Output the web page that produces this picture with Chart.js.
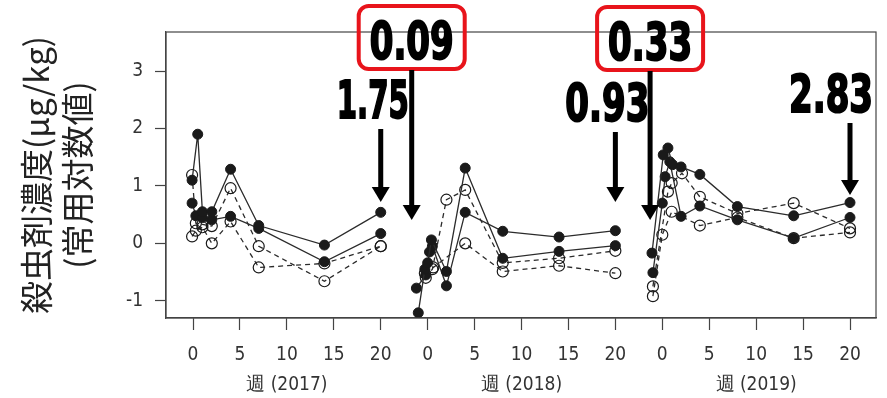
<!DOCTYPE html>
<html>
<head>
<meta charset="utf-8">
<script src="https://cdn.jsdelivr.net/npm/chart.js@4"></script>
<style>
  html, body { margin: 0; padding: 0; background: #fff; }
  #wrap { width: 887px; height: 398px; }
</style>
</head>
<body>
<div id="wrap"><canvas id="chart" width="887" height="398"></canvas></div>
<script>
// ─── Data ─────────────────────────────────────────────
var yearLabels = ['2017', '2018', '2019'];
var weekTicks = [0, 5, 10, 15, 20];
var yTicks = [-1, 0, 1, 2, 3];
var yearSpan = 25; // weeks between panel origins on the shared axis

// 2017
var wk17Fa = [-0.1, 0.5, 1.0, 2.0, 4.0, 7.0, 14.0, 20.0];
var val17Fa = [1.10, 1.90, 0.55, 0.55, 1.29, 0.31, -0.03, 0.54];
var wk17Fb = [-0.1, 0.3, 1.0, 2.0, 4.0, 7.0, 14.0, 20.0];
var val17Fb = [0.70, 0.48, 0.45, 0.41, 0.47, 0.26, -0.32, 0.17];
var wk17Oa = [-0.1, 0.3, 1.0, 2.0, 4.0, 7.0, 14.0, 20.0];
var val17Oa = [1.19, 0.35, 0.33, 0.30, 0.96, -0.05, -0.66, -0.05];
var wk17Ob = [-0.1, 0.3, 1.0, 2.0, 4.0, 7.0, 14.0, 20.0];
var val17Ob = [0.12, 0.22, 0.28, 0.00, 0.38, -0.42, -0.35, -0.05];

// 2018
var wk18Fa = [-1.0, -0.3, 0.0, 0.4, 2.0, 4.0, 8.0, 14.0, 20.0];
var val18Fa = [-1.21, -0.45, -0.34, 0.06, -0.49, 1.31, -0.26, -0.14, -0.04];
var wk18Fb = [-1.2, -0.2, 0.2, 0.5, 2.0, 4.0, 8.0, 14.0, 20.0];
var val18Fb = [-0.78, -0.55, -0.15, -0.05, -0.74, 0.54, 0.21, 0.11, 0.22];
var wk18Oa = [-0.2, 0.5, 2.0, 4.0, 8.0, 14.0, 20.0];
var val18Oa = [-0.60, -0.45, 0.76, 0.93, -0.34, -0.26, -0.13];
var wk18Ob = [-0.3, 0.6, 4.0, 8.0, 14.0, 20.0];
var val18Ob = [-0.52, -0.42, 0.00, -0.49, -0.39, -0.52];

// 2019
var wk19Fa = [-1.1, 0.1, 0.6, 1.1, 2.0, 4.0, 8.0, 14.0, 20.0];
var val19Fa = [-0.17, 1.54, 1.66, 1.37, 1.33, 1.20, 0.64, 0.48, 0.71];
var wk19Fb = [-1.0, 0.0, 0.3, 0.8, 2.0, 4.0, 8.0, 14.0, 20.0];
var val19Fb = [-0.51, 0.70, 1.16, 1.42, 0.47, 0.65, 0.41, 0.09, 0.45];
var wk19Oa = [-1.0, 0.6, 1.0, 2.1, 4.0, 8.0, 14.0, 20.0];
var val19Oa = [-0.75, 0.90, 1.05, 1.22, 0.81, 0.52, 0.70, 0.26];
var wk19Ob = [-1.0, 0.0, 1.0, 4.0, 8.0, 14.0, 20.0];
var val19Ob = [-0.92, 0.15, 0.55, 0.31, 0.45, 0.09, 0.19];

// annotations: label, year index, week the arrow points at, boxed
var noteLabels = ['1.75', '0.09', '0.93', '0.33', '2.83'];
var noteYear = [0, 1, 1, 2, 2];
var noteWeek = [20, -1.7, 20, -1.3, 20];
var noteBoxed = [false, true, false, true, false];

var seriesList = [
  [0, true, wk17Fa, val17Fa], [0, true, wk17Fb, val17Fb],
  [0, false, wk17Oa, val17Oa], [0, false, wk17Ob, val17Ob],
  [1, true, wk18Fa, val18Fa], [1, true, wk18Fb, val18Fb],
  [1, false, wk18Oa, val18Oa], [1, false, wk18Ob, val18Ob],
  [2, true, wk19Fa, val19Fa], [2, true, wk19Fb, val19Fb],
  [2, false, wk19Oa, val19Oa], [2, false, wk19Ob, val19Ob]
];

// ─── Datasets ─────────────────────────────────────────
var INK = '#1a1a1a';
var datasets = seriesList.map(function (s) {
  var off = s[0] * yearSpan;
  var pts = s[2].map(function (w, i) { return { x: w + off, y: s[3][i] }; });
  return {
    data: pts,
    showLine: true,
    borderColor: '#2b2b2b',
    borderWidth: 1.3,
    borderDash: s[1] ? [] : [5, 4],
    pointRadius: s[1] ? 5 : 5.5,
    pointBorderWidth: s[1] ? 1 : 1.2,
    pointBorderColor: INK,
    pointBackgroundColor: s[1] ? INK : 'rgba(0,0,0,0)',
    clip: 0
  };
});

var xTickValues = [];
yearLabels.forEach(function (y, i) {
  weekTicks.forEach(function (w) { xTickValues.push(w + i * yearSpan); });
});

var TICK_FONT = '"Liberation Sans Narrow", "DejaVu Sans Condensed", "Noto Sans", sans-serif';

// ─── Plugins ──────────────────────────────────────────
var frame = {
  id: 'frame',
  afterDatasetsDraw: function (chart) {
    var a = chart.chartArea, ctx = chart.ctx;
    ctx.save();
    ctx.strokeStyle = '#444';
    ctx.lineWidth = 1.2;
    ctx.strokeRect(a.left, a.top, a.right - a.left, a.bottom - a.top);
    ctx.restore();
  }
};

var titles = {
  id: 'titles',
  afterDraw: function (chart) {
    var ctx = chart.ctx, a = chart.chartArea, xs = chart.scales.x;
    ctx.save();
    ctx.fillStyle = '#333';
    ctx.textAlign = 'center';
    ctx.textBaseline = 'middle';
    ctx.font = '19px ' + TICK_FONT;
    yearLabels.forEach(function (y, i) {
      ctx.fillText('週 (' + y + ')', xs.getPixelForValue(10 + i * yearSpan), 385);
    });
    // y title, two rotated lines
    var cy = (a.top + a.bottom) / 2;
    ctx.font = '33px "Noto Sans CJK JP", sans-serif';
    ctx.fillStyle = '#222';
    ctx.translate(36, cy);
    ctx.rotate(-Math.PI / 2);
    ctx.fillText('殺虫剤濃度(μg/kg)', 0, 0);
    ctx.fillText('(常用対数値)', 0, 41);
    ctx.restore();
  }
};

var notes = {
  id: 'notes',
  afterDraw: function (chart) {
    var ctx = chart.ctx, xs = chart.scales.x;
    ctx.save();
    noteLabels.forEach(function (t, i) {
      var ax = xs.getPixelForValue(noteWeek[i] + noteYear[i] * yearSpan);
      var boxed = noteBoxed[i];
      var tx = boxed ? ax : ax - 8;
      if (i === 4) tx = ax - 19;
      var baseY = boxed ? 59 : (i === 0 ? 118 : (i === 2 ? 121 : 112));
      if (i === 3) baseY = 60;
      // text, squeezed to an Impact-like width
      ctx.save();
      ctx.font = 'bold 52px ' + TICK_FONT;
      var w = ctx.measureText(t).width;
      var target = t === '1.75' ? 72 : 84;
      var sx = target / w;
      ctx.translate(tx, baseY);
      ctx.scale(sx, 1);
      ctx.fillStyle = '#000';
      ctx.strokeStyle = '#000';
      ctx.lineWidth = 2;
      ctx.textAlign = 'center';
      ctx.textBaseline = 'alphabetic';
      ctx.fillText(t, 0, 0);
      ctx.strokeText(t, 0, 0);
      ctx.restore();
      // red rounded box
      if (boxed) {
        ctx.save();
        ctx.strokeStyle = '#e8141b';
        ctx.lineWidth = 4;
        ctx.beginPath();
        ctx.roundRect(ax - 53, baseY - 53, 106, 63, 10);
        ctx.stroke();
        ctx.restore();
      }
      // arrow
      var top = baseY + 11;
      var tip = boxed ? 220 : (i === 4 ? 195 : 202);
      ctx.fillStyle = '#000';
      ctx.fillRect(ax - 2.5, top, 5, tip - top - 12);
      ctx.beginPath();
      ctx.moveTo(ax - 9, tip - 15);
      ctx.lineTo(ax + 9, tip - 15);
      ctx.lineTo(ax, tip);
      ctx.closePath();
      ctx.fill();
    });
    ctx.restore();
  }
};

// ─── Chart ────────────────────────────────────────────
new Chart(document.getElementById('chart'), {
  type: 'scatter',
  data: { datasets: datasets },
  plugins: [frame, titles, notes],
  options: {
    responsive: false,
    animation: false,
    devicePixelRatio: 1,
    layout: { padding: { top: 32, right: 11, left: 0, bottom: 0 } },
    plugins: { legend: { display: false }, tooltip: { enabled: false } },
    scales: {
      x: {
        type: 'linear',
        min: -2.88,
        max: 72.77,
        afterFit: function (s) { s.height = 80; },
        afterBuildTicks: function (s) {
          s.ticks = xTickValues.map(function (v) { return { value: v }; });
        },
        ticks: {
          color: '#333',
          padding: 14,
          maxRotation: 0,
          autoSkip: false,
          font: { family: TICK_FONT, size: 19 },
          callback: function (v) { return String(Math.round(v) % yearSpan); }
        },
        grid: { drawOnChartArea: false, tickLength: 12, tickColor: '#444', tickWidth: 1.2 },
        border: { display: true, color: '#444', width: 1.2 }
      },
      y: {
        min: -1.3,
        max: 3.68,
        afterFit: function (s) { s.width = 166; },
        afterBuildTicks: function (s) {
          s.ticks = yTicks.map(function (v) { return { value: v }; });
        },
        ticks: {
          color: '#333',
          padding: 12,
          font: { family: TICK_FONT, size: 19 }
        },
        grid: { drawOnChartArea: false, tickLength: 11, tickColor: '#444', tickWidth: 1.2 },
        border: { display: true, color: '#444', width: 1.2 }
      }
    }
  }
});
</script>
</body>
</html>
